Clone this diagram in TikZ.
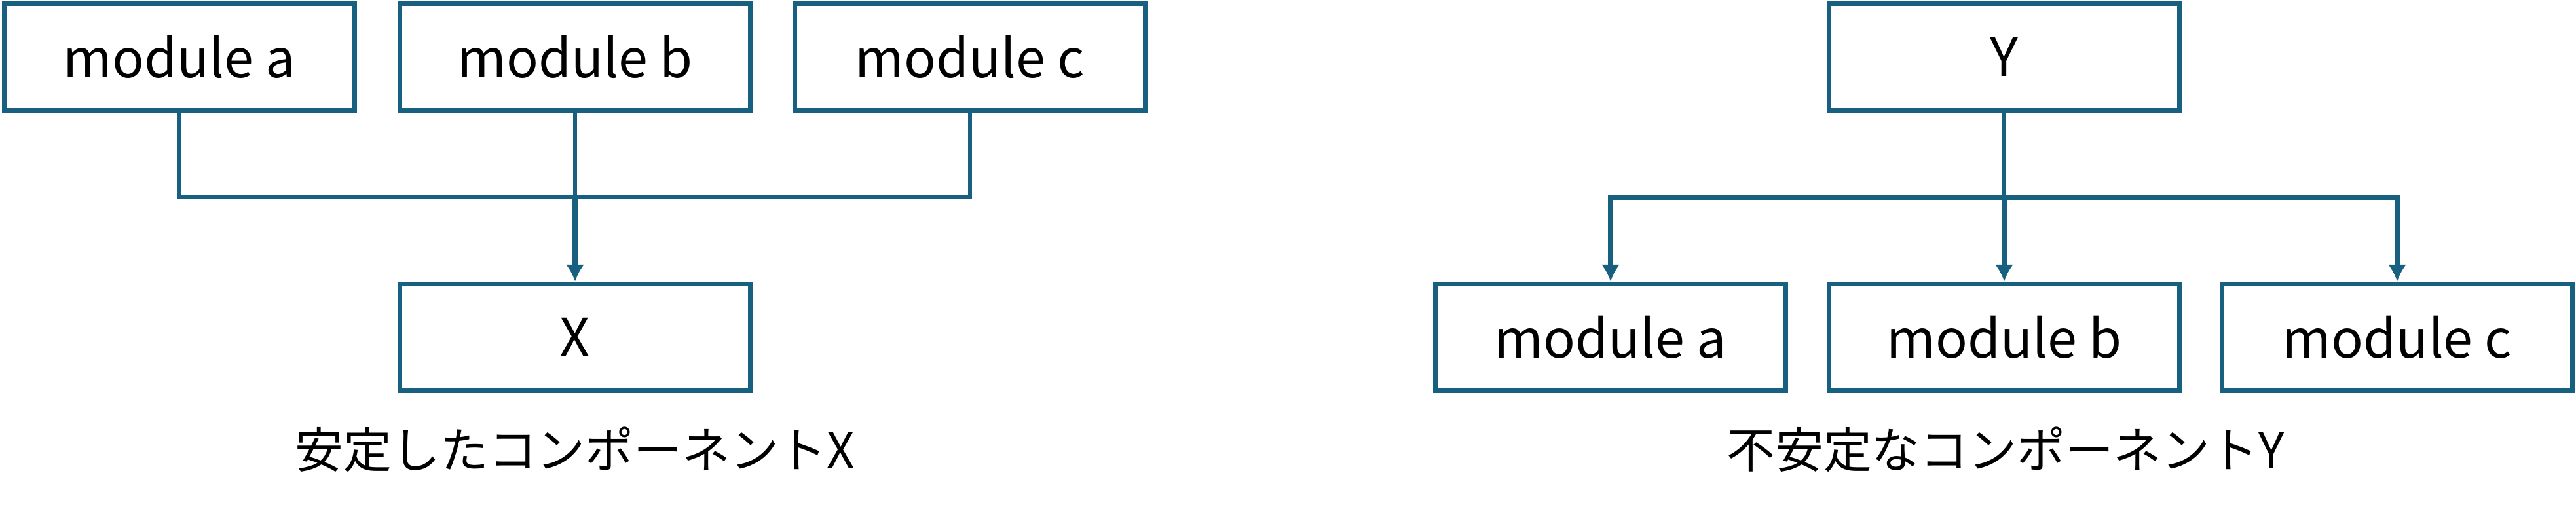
\documentclass[tikz,border=0pt]{standalone}
\usepackage{fontspec}
\setmainfont{Noto Sans CJK JP}
\usetikzlibrary{arrows.meta}
\definecolor{linkblue}{RGB}{24,96,128}
\begin{document}
\begin{tikzpicture}[>={Latex[length=0.26cm,width=0.28cm]},
          box/.style={draw=linkblue, line width=2pt, minimum width=5.35cm, minimum height=1.63cm,
                      inner sep=0pt, font=\fontsize{23}{27}\selectfont},
          conn/.style={linkblue, line width=1.8pt},
          arr/.style={conn, line width=2.2pt, ->},
          caption/.style={font=\fontsize{21}{25}\selectfont}]
        \useasboundingbox (0,0) rectangle (39.33,7.76);
        % stable side: three modules feed into X
        \node[box] (la) at (2.74,6.89) {module a};
        \node[box] (lb) at (8.78,6.89) {module b};
        \node[box] (lc) at (14.81,6.89) {module c};
        \node[box] (lx) at (8.78,2.61) {X};
        \coordinate (lbus) at (8.78,4.75);
        \draw[conn] (la.south) |- (lbus) -| (lc.south);
        \draw[conn] (lb.south) -- (lbus);
        \draw[arr] (lbus) -- (lx.north);
        \node[caption] (lcap) at (8.78,0.90) {安定したコンポーネントX};
        % unstable side: Y depends on the three modules
        \node[box] (ry) at (30.60,6.89) {Y};
        \node[box] (ra) at (24.59,2.61) {module a};
        \node[box] (rb) at (30.60,2.61) {module b};
        \node[box] (rc) at (36.60,2.61) {module c};
        \coordinate (rbus) at (30.60,4.75);
        \draw[conn] (ry.south) -- (rbus);
        \draw[arr] (rbus) -| (ra.north);
        \draw[arr] (rbus) -- (rb.north);
        \draw[arr] (rbus) -| (rc.north);
        \node[caption] (rcap) at (30.62,0.90) {不安定なコンポーネントY};
\end{tikzpicture}
\end{document}
